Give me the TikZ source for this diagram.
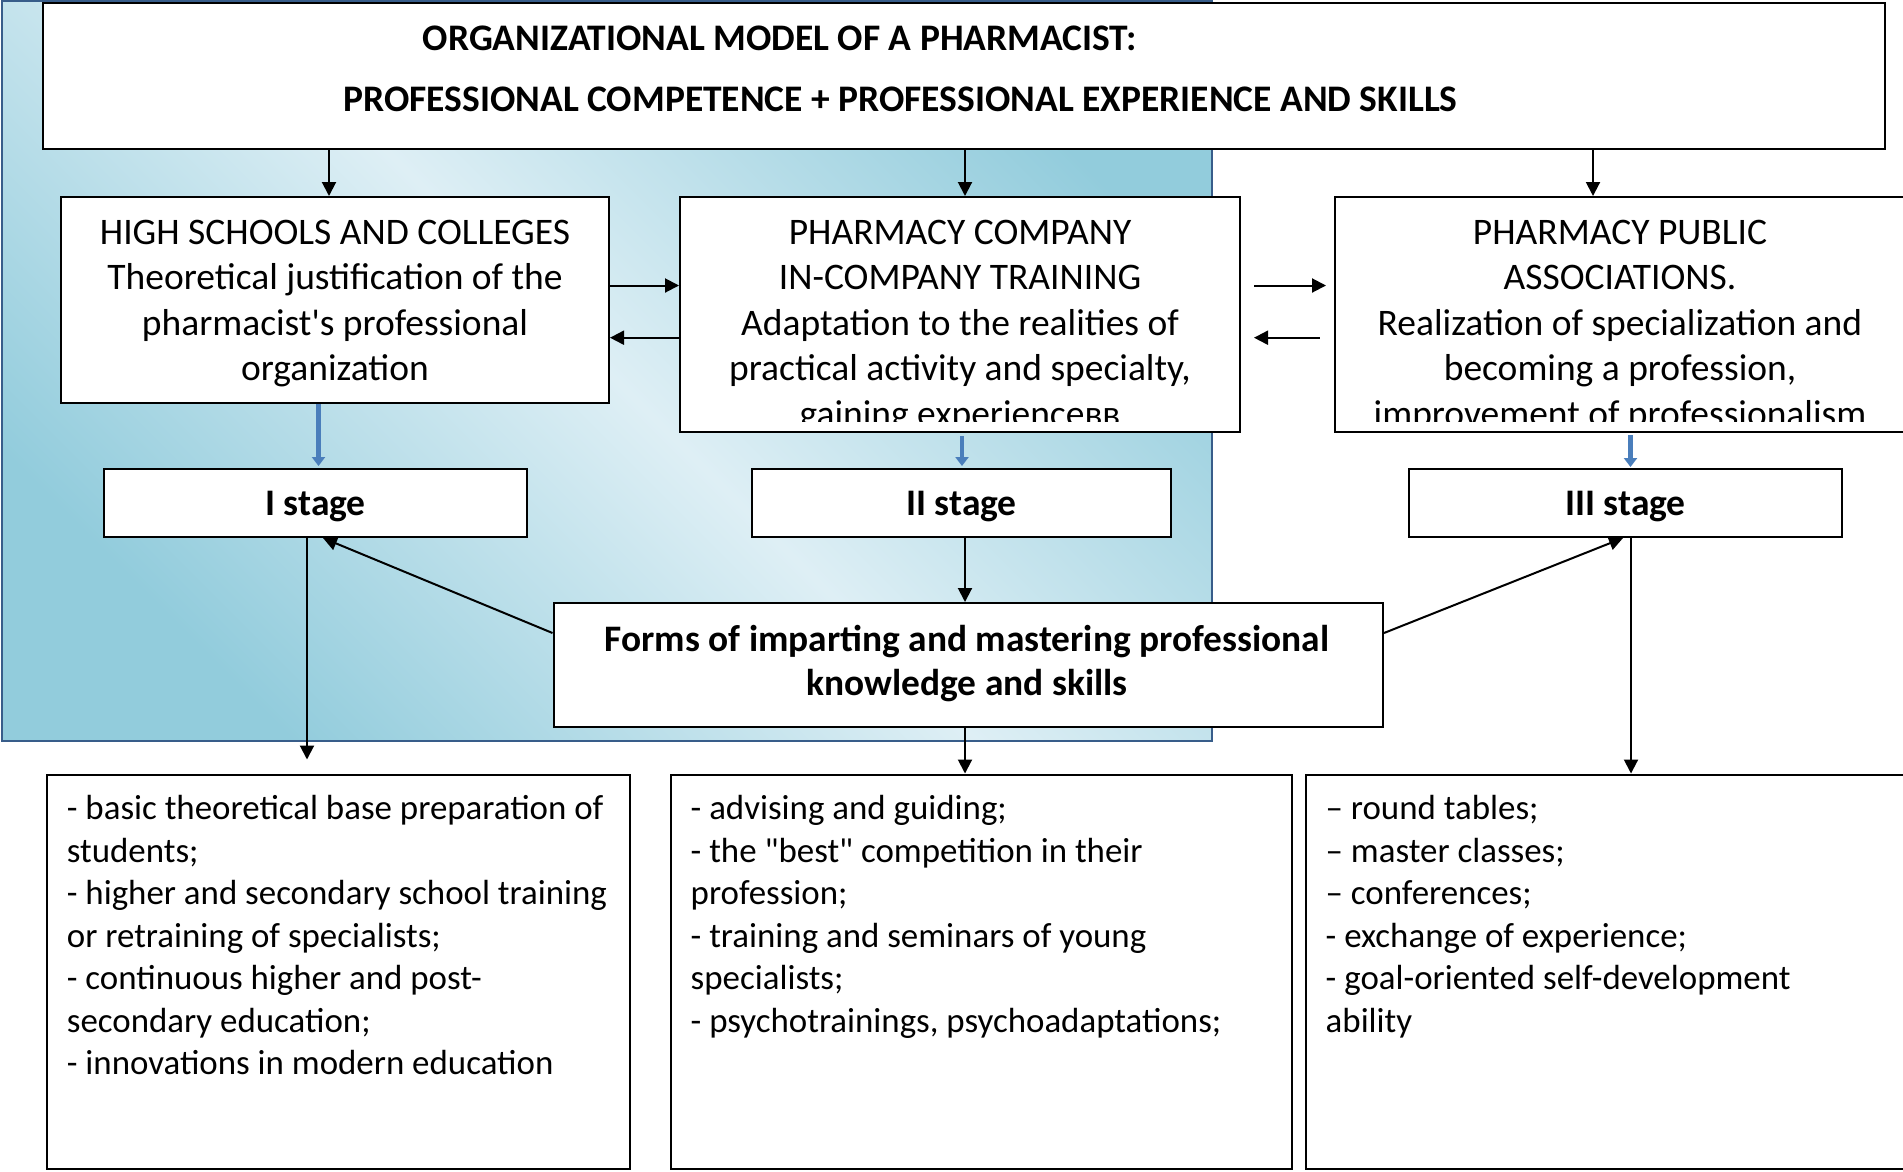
\documentclass[tikz,border=0pt]{standalone}
\usepackage{fontspec}
\setmainfont{Carlito}
\newfontfamily\calfont{Carlito}
\usetikzlibrary{arrows.meta,calc}
\definecolor{bgdark}{RGB}{146,204,220}
\definecolor{bglight}{RGB}{222,239,245}
\definecolor{bgborder}{RGB}{56,93,138}
\definecolor{bluearr}{RGB}{74,126,187}
\newcommand\ftitle{\calfont\fontsize{37.5}{44}\selectfont\bfseries}
\newcommand\fmid{\calfont\fontsize{37.5}{45.5}\selectfont}
\newcommand\fbot{\calfont\fontsize{34.9}{42.5}\selectfont}
\newcommand\fstage{\calfont\fontsize{37.5}{44}\selectfont\bfseries}
\newcommand\fforms{\calfont\fontsize{37.4}{44}\selectfont\bfseries}
\begin{document}
\begin{tikzpicture}[x=1pt,y=-1pt,
  box/.style={draw=black,line width=2pt,fill=white,inner sep=0pt,rectangle},
  stagebox/.style={box,font=\fstage,text height=30pt,text depth=6pt},
  arr/.style={line width=2pt,-{Triangle[width=14pt,length=14pt]}},
  barr/.style={line width=4.5pt,bluearr,-{Triangle[width=13pt,length=9pt]}},
  midtext/.style={font=\fmid,align=center,anchor=north,inner sep=0pt},
  bottext/.style={font=\fbot,align=left,anchor=north west,inner sep=0pt}]
\useasboundingbox (0,0) rectangle (1903,1171);
\clip (0,0) rectangle (1903,1171);
\fill[white] (0,0) rectangle (1903,1171);
% background panel
\shade[top color=bgdark,bottom color=bgdark,middle color=bglight,shading angle=-45] (2,1) rectangle (1212,741);
\draw[bgborder,line width=2.5pt] (2,1) rectangle (1212,741);

% title box
\node[box,minimum width=1842.5pt,minimum height=146pt] (top) at (963.75,76) {};
\node[font=\ftitle,anchor=base,inner sep=0pt] (t1) at (780,50.5) {ORGANIZATIONAL MODEL OF A PHARMACIST:};
\node[font=\ftitle,anchor=base,inner sep=0pt] (t2) at (900.5,111) {PROFESSIONAL COMPETENCE + PROFESSIONAL EXPERIENCE AND SKILLS};

% middle row
\node[box,minimum width=548pt,minimum height=206pt] (high) at (335,300) {};
\node[midtext] (hightxt) at (335,212) {\strut HIGH SCHOOLS AND COLLEGES\\Theoretical justification of the\\pharmacist's professional\\organization};
\node[box,minimum width=560pt,minimum height=235pt] (comp) at (960,314.5) {};
\node[box,minimum width=570pt,minimum height=235pt] (pub) at (1620,314.5) {};
\begin{scope}
\clip (680,197) rectangle (1905,421);
\node[midtext] (comptxt) at (960,212) {\strut PHARMACY COMPANY\\IN-COMPANY TRAINING\\Adaptation to the realities of\\practical activity and specialty,\\gaining experienceвв};
\node[midtext] (pubtxt) at (1620,212) {\strut PHARMACY PUBLIC\\ASSOCIATIONS.\\Realization of specialization and\\becoming a profession,\\improvement of professionalism};
\end{scope}

% stages
\node[stagebox,minimum width=423pt,minimum height=68pt] (s1) at (315.5,503) {I stage};
\node[stagebox,minimum width=419pt,minimum height=68pt] (s2) at (961.5,503) {II stage};
\node[stagebox,minimum width=433pt,minimum height=68pt] (s3) at (1625.5,503) {III stage};

% forms
\node[box,minimum width=829.5pt,minimum height=124pt] (forms) at (968.25,665) {};
\node[font=\fforms,align=center,anchor=north,inner sep=0pt] (formstxt) at (967,620) {\strut Forms of imparting and mastering professional\\knowledge and skills};

% bottom boxes
\node[box,minimum width=583pt,minimum height=394pt] (b1) at (338,971.5) {};
\node[box,minimum width=621pt,minimum height=394pt] (b2) at (981,971.5) {};
\node[box,minimum width=610pt,minimum height=394pt] (b3) at (1610.5,971.5) {};
\node[bottext] (b1txt) at (66.7,790) {\strut - basic theoretical base preparation of\\students;\\- higher and secondary school training\\or retraining of specialists;\\- continuous higher and post-\\secondary education;\\- innovations in modern education};
\node[bottext] (b2txt) at (690.5,790) {\strut - advising and guiding;\\- the "best" competition in their\\profession;\\- training and seminars of young\\specialists;\\- psychotrainings, psychoadaptations;};
\node[bottext] (b3txt) at (1325.5,790) {\strut – round tables;\\– master classes;\\– conferences;\\- exchange of experience;\\- goal-oriented self-development\\ability};

% helper coordinates
\coordinate (cA) at (329,0);
\coordinate (cB) at (965,0);
\coordinate (cC) at (1593,0);
\coordinate (yA) at (0,285.5);
\coordinate (yB) at (0,337.7);
\coordinate (bA) at (318.5,0);
\coordinate (bB) at (962,0);
\coordinate (bC) at (1630.5,0);
\coordinate (vA) at (307,0);
\coordinate (vC) at (1631,0);

% connectors
\draw[arr] (top.south -| cA) -- (high.north -| cA);
\draw[arr] (top.south -| cB) -- (comp.north -| cB);
\draw[arr] (top.south -| cC) -- (pub.north -| cC);
\draw[arr] (high.east |- yA) -- (comp.west |- yA);
\draw[arr] (comp.west |- yB) -- (high.east |- yB);
\draw[arr] ($(comp.east |- yA)+(13,0)$) -- ($(pub.west |- yA)+(-8,0)$);
\draw[arr] ($(pub.west |- yB)+(-14.5,0)$) -- ($(comp.east |- yB)+(13,0)$);
\draw[barr] (high.south -| bA) -- ($(s1.north -| bA)+(0,-2)$);
\draw[barr] ($(comp.south -| bB)+(0,3)$) -- ($(s2.north -| bB)+(0,-2)$);
\draw[barr] ($(pub.south -| bC)+(0,2)$) -- ($(s3.north -| bC)+(0,-1)$);
\draw[arr] (s1.south -| vA) -- ($(b1.north -| vA)+(0,-14)$);
\draw[arr] (s2.south -| cB) -- (forms.north -| cB);
\draw[arr] (forms.south -| cB) -- (b2.north -| cB);
\draw[arr] (s3.south -| vC) -- (b3.north -| vC);
\draw[arr] ($(forms.north west)+(0,31)$) -- ($(s1.south)+(7.5,0)$);
\draw[arr] ($(forms.north east)+(0,31)$) -- ($(s3.south)+(-2.5,0)$);
\end{tikzpicture}
\end{document}
